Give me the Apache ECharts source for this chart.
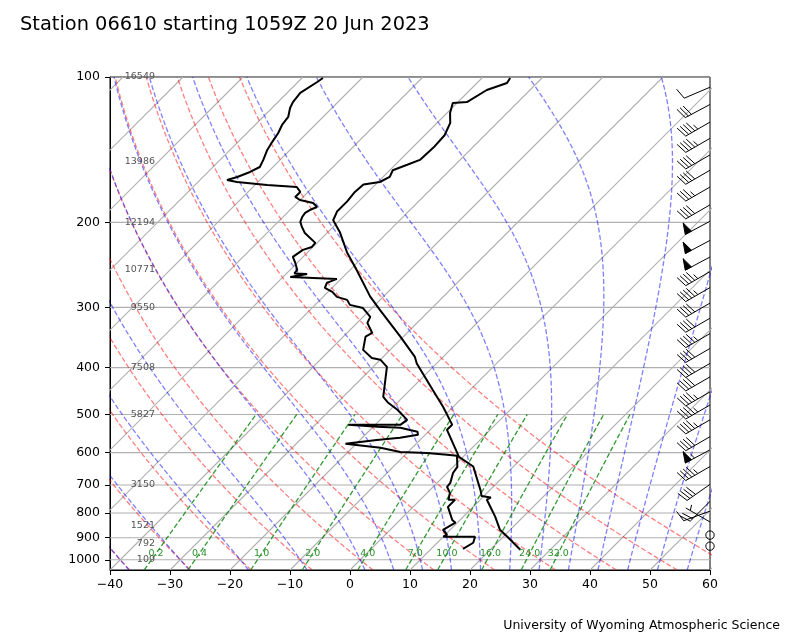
<!DOCTYPE html>
<html><head><meta charset="utf-8">
<script src="https://cdn.jsdelivr.net/npm/echarts@6/dist/echarts.min.js"></script>
<style>html,body{margin:0;padding:0;background:#fff}#c{width:800px;height:640px}</style>
</head><body><div id="c"></div>
<script>
// ---------------- data ----------------
const tempP = [953, 895, 867, 814, 751, 743, 738, 720, 641, 612, 538, 525, 482, 445, 392, 380, 345, 304, 285, 251, 231, 210, 198, 190, 181, 173, 167, 165, 161, 156, 152, 148.5, 140, 132, 124.5, 118.7, 113.2, 112.7, 106.4, 102.9, 100.5];
const tempT = [25.0, 20.6, 18.3, 15.3, 11.1, 11.4, 9.6, 8.6, 3.3, -0.7, -7.2, -7.2, -11.7, -16.2, -23.3, -24.7, -30.5, -38.3, -42.2, -48.9, -53.4, -57.9, -61.1, -61.9, -61.9, -62.2, -62.0, -59.7, -58.9, -59.5, -58.0, -56.7, -56.5, -56.7, -57.8, -59.5, -60.7, -58.5, -57.2, -55.0, -55.3];
const dewP = [949, 922, 896, 896, 887.5, 867, 838, 827, 777, 751, 751, 727, 706, 693, 661, 642, 609, 606, 601, 598, 586, 575, 565, 559, 551, 543, 533, 530, 525.5, 525.5, 513, 489, 473, 460, 424, 398.5, 385, 382, 367.5, 345, 339, 323, 314, 301, 296.5, 289.5, 285.4, 278.7, 273.5, 267, 262, 259.5, 255.8, 255.2, 251, 242.7, 235.9, 228.1, 224.9, 220.6, 210.4, 204.4, 199.6, 195, 191.2, 188.6, 185.9, 182.4, 179.8, 177.2, 173, 169, 167.3, 165, 163.4, 161.1, 157.3, 153.6, 148.5, 141.6, 136.4, 130.6, 125.7, 121, 115.9, 112.7, 107.9, 102.4, 100.5];
const dewT = [15.3, 16.0, 15.3, 10.0, 10.3, 8.8, 9.7, 8.7, 5.8, 5.8, 4.7, 3.8, 2.3, 2.2, 1.0, 0.7, -1.2, -3.0, -6.7, -11.3, -15.3, -21.8, -17.2, -13.7, -11.2, -11.8, -15.3, -19.3, -24.5, -15.8, -15.5, -18.8, -21.5, -23.3, -25.8, -27.7, -30.0, -31.7, -34.5, -36.3, -35.8, -38.3, -38.8, -41.5, -44.2, -45.5, -47.7, -49.3, -51.2, -51.7, -50.7, -58.8, -56.5, -58.7, -58.8, -60.3, -61.7, -61.2, -60.2, -60.3, -63.7, -65.2, -66.3, -66.8, -67.0, -66.7, -66.0, -67.3, -70.0, -71.3, -71.3, -72.7, -78.0, -83.5, -85.5, -84.3, -83.0, -82.2, -82.8, -83.8, -84.3, -84.8, -85.5, -85.8, -87.0, -87.5, -87.8, -86.8, -86.5];

const barbP   = [105, 114, 124, 134, 145, 156, 169, 184, 199, 218, 236, 253, 273, 294, 316, 340, 365, 392, 418, 449, 478, 513, 556, 592, 641, 698, 757, 793, 835];
const barbSpd = [10, 30, 45, 45, 40, 40, 35, 40, 50, 50, 50, 45, 45, 40, 40, 45, 40, 40, 40, 45, 45, 45, 40, 55, 45, 40, 20, 10, 5];
const barbDir = [247, 242, 240, 240, 240, 240, 240, 240, 242, 242, 242, 240, 240, 240, 240, 240, 240, 240, 240, 240, 240, 240, 240, 242, 240, 235, 225, 250, 300];
const calmP   = [889, 937];

const pTicks = [100, 200, 300, 400, 500, 600, 700, 800, 900, 1000];
const heightP = [1000, 925, 850, 700, 500, 400, 300, 250, 200, 150, 100];
const heightM = ['109', '792', '1521', '3150', '5827', '7508', '9550', '10771', '12194', '13986', '16549'];
const mixW = [0.2, 0.4, 1.0, 2.0, 4.0, 7.0, 10.0, 16.0, 24.0, 32.0];
const dryT0 = [-40, -30, -20, -10, 0, 10, 20, 30, 40, 50, 60];
const moistT0 = [-40, -30, -20, -10, 0, 5, 10, 15, 20, 25, 30, 35, 40, 45, 50, 55];
const isoT = [];
for (let t = -130; t <= 60; t += 10) isoT.push(t);

// ---------------- geometry ----------------
const PBOT = 1050, PTOP = 100, XMIN = -40, XMAX = 60;
const GL = 110, GT = 77, GW = 600, GH = 493;
const SKEW = (GH / GW) * (XMAX - XMIN); // 45 degree skew
function skewX(T, P) { return T + SKEW * Math.log(PBOT / P) / Math.log(PBOT / PTOP); }

// ---------------- thermodynamics ----------------
const Rd = 287.04749, Cpd = 1004.6662, Lv = 2.50084e6, EPS = 0.6219569, KAP = Rd / Cpd;
function es(Tk) { const t = Tk - 273.15; return 6.112 * Math.exp(17.67 * t / (t + 243.5)); }
function dTdP(P, Tk) {
  const e = es(Tk); const rs = EPS * e / (P - e);
  return (Rd * Tk + Lv * rs) / (Cpd + Lv * Lv * rs * EPS / (Rd * Tk * Tk)) / P;
}
function moistLine(T0) {
  const up = [], dn = [];
  let T = T0 + 273.15, P = 1000;
  up.push([P, T]);
  const h = -5;
  while (P > PTOP + 1e-6) {
    const k1 = dTdP(P, T), k2 = dTdP(P + h / 2, T + h / 2 * k1), k3 = dTdP(P + h / 2, T + h / 2 * k2), k4 = dTdP(P + h, T + h * k3);
    T += h / 6 * (k1 + 2 * k2 + 2 * k3 + k4); P += h; up.push([P, T]);
  }
  T = T0 + 273.15; P = 1000;
  const h2 = 5;
  while (P < PBOT - 1e-6) {
    const k1 = dTdP(P, T), k2 = dTdP(P + h2 / 2, T + h2 / 2 * k1), k3 = dTdP(P + h2 / 2, T + h2 / 2 * k2), k4 = dTdP(P + h2, T + h2 * k3);
    T += h2 / 6 * (k1 + 2 * k2 + 2 * k3 + k4); P += h2; dn.unshift([P, T]);
  }
  return dn.concat(up).map(d => [skewX(d[1] - 273.15, d[0]), d[0]]);
}
function dryLine(T0) {
  const out = [];
  for (let p = PBOT; p >= PTOP; p -= 10) out.push([skewX((T0 + 273.15) * Math.pow(p / 1000, KAP) - 273.15, p), p]);
  return out;
}
function tdFromW(w, p) {
  const e = (w / 1000) * p / (EPS + w / 1000); const l = Math.log(e / 6.112);
  return 243.5 * l / (17.67 - l);
}
function mixLine(w) {
  const out = [];
  for (let p = PBOT; p >= 500; p -= 10) out.push([skewX(tdFromW(w, p), p), p]);
  return out;
}

// ---------------- series ----------------
function ls(data, color, width, dash, z) {
  return { type: 'line', data, symbol: 'none', showSymbol: false, silent: true, animation: false, clip: true, z: z,
    lineStyle: { color, width, type: dash ? [5, 2.4] : 'solid' }, emphasis: { disabled: true } };
}
const series = [];
pTicks.forEach(p => series.push(ls([[XMIN, p], [XMAX, p]], '#b0b0b0', 1.1, false, 1)));
isoT.forEach(t => series.push(ls([[skewX(t, PBOT), PBOT], [skewX(t, PTOP), PTOP]], '#b0b0b0', 1.1, false, 1)));
dryT0.forEach(t => series.push(ls(dryLine(t), 'rgba(255,0,0,0.5)', 1.3, true, 2)));
moistT0.forEach(t => series.push(ls(moistLine(t), 'rgba(0,0,255,0.5)', 1.3, true, 2)));
mixW.forEach(w => series.push(ls(mixLine(w), 'rgba(0,128,0,0.8)', 1.3, true, 2)));
series.push(ls(tempP.map((p, i) => [skewX(tempT[i], p), p]), '#000', 2, false, 4));
series.push(ls(dewP.map((p, i) => [skewX(dewT[i], p), p]), '#000', 2, false, 4));

// mixing ratio labels
series.push({
  type: 'custom', silent: true, animation: false, z: 5,
  data: mixW.map(w => [skewX(tdFromW(w, 970), 970), 970, w]),
  renderItem: (params, api) => {
    const pt = api.coord([api.value(0), api.value(1)]);
    return { type: 'text', x: pt[0], y: pt[1], style: { text: api.value(2).toFixed(1), fill: '#2b912b', font: '9.5px "DejaVu Sans"', align: 'center', verticalAlign: 'middle' } };
  }
});
// height labels
series.push({
  type: 'custom', silent: true, animation: false, z: 5,
  data: heightP.map((p, i) => [XMIN, p, i]),
  renderItem: (params, api) => {
    const pt = api.coord([api.value(0), api.value(1)]);
    return { type: 'text', x: pt[0] + 45, y: pt[1], style: { text: heightM[api.value(2)], fill: '#555', font: '9.5px "DejaVu Sans"', align: 'right', verticalAlign: 'middle' } };
  }
});

// wind barbs
const BL = 28, SP = 0.125 * BL, FH = 0.4 * BL, FW = 0.25 * BL, ER = 0.15 * BL;
function barb(cx, cy, spd, dir) {
  const kids = [];
  let mag = 5 * Math.round(spd / 5);
  const nf = Math.floor(mag / 50); mag -= nf * 50;
  const nb = Math.floor(mag / 10); mag -= nb * 10;
  const half = mag >= 5;
  if (!nf && !nb && !half) {
    kids.push({ type: 'circle', shape: { cx, cy, r: ER }, style: { fill: 'none', stroke: '#000', lineWidth: 1 } });
    return kids;
  }
  const th = dir * Math.PI / 180, u = -Math.sin(th), v = -Math.cos(th);
  const a = Math.atan2(v, u) + Math.PI / 2, ca = Math.cos(a), sa = Math.sin(a);
  const T = (x, y) => [cx + x * ca - y * sa, cy - (x * sa + y * ca)];
  const st = { stroke: '#000', lineWidth: 1, fill: 'none' };
  kids.push({ type: 'polyline', shape: { points: [T(0, 0), T(0, BL)] }, style: st });
  let off = BL;
  for (let i = 0; i < nf; i++) {
    if (off !== BL) off += SP / 2;
    kids.push({ type: 'polygon', shape: { points: [T(0, off), T(FH, off - FW / 2), T(0, off - FW)] }, style: { fill: '#000', stroke: '#000', lineWidth: 1 } });
    off -= FW + SP;
  }
  for (let i = 0; i < nb; i++) {
    kids.push({ type: 'polyline', shape: { points: [T(0, off), T(FH, off + FW / 2)] }, style: st });
    off -= SP;
  }
  if (half) {
    if (off === BL) off -= 1.5 * SP;
    kids.push({ type: 'polyline', shape: { points: [T(0, off), T(FH / 2, off + FW / 4)] }, style: st });
  }
  return kids;
}
series.push({
  type: 'custom', silent: true, animation: false, z: 6, clip: false,
  data: barbP.map((p, i) => [XMAX, p, barbSpd[i], barbDir[i]]).concat(calmP.map(p => [XMAX, p, 0, 0])),
  renderItem: (params, api) => {
    const pt = api.coord([api.value(0), api.value(1)]);
    return { type: 'group', children: barb(pt[0], pt[1], api.value(2), api.value(3)) };
  }
});

const chart = echarts.init(document.getElementById('c'), null, { renderer: 'canvas' });
chart.setOption({
  animation: false,
  backgroundColor: '#fff',
  textStyle: { fontFamily: 'DejaVu Sans' },
  title: { text: 'Station 06610 starting 1059Z 20 Jun 2023', left: 20, top: 15, padding: 0,
    textStyle: { fontSize: 19.4, fontWeight: 'normal', color: '#000', fontFamily: 'DejaVu Sans' } },
  graphic: [{ type: 'text', right: 20, top: 619, style: { text: 'University of Wyoming Atmospheric Science', font: '12.5px "DejaVu Sans"', fill: '#000' } }],
  grid: { left: GL, top: GT, width: GW, height: GH, show: true, borderColor: '#000', borderWidth: 1, backgroundColor: 'transparent' },
  xAxis: { type: 'value', min: XMIN, max: XMAX, interval: 10,
    axisLine: { show: true, onZero: false, lineStyle: { color: '#000', width: 1 } },
    axisTick: { show: true, inside: false, length: 5, lineStyle: { color: '#000' } },
    axisLabel: { color: '#000', fontSize: 12.5, margin: 8, formatter: v => (v < 0 ? '\u2212' : '') + Math.abs(v) },
    splitLine: { show: false } },
  yAxis: { type: 'log', logBase: 10, min: PTOP, max: PBOT, inverse: true,
    axisLine: { show: true, onZero: false, lineStyle: { color: '#000', width: 1 } },
    axisTick: { show: true, inside: false, length: 5, customValues: pTicks, lineStyle: { color: '#000' } },
    axisLabel: { color: '#000', fontSize: 12.5, margin: 10, customValues: pTicks, formatter: v => String(Math.round(v)) },
    splitLine: { show: false }, minorTick: { show: false } },
  series
});
</script></body></html>
